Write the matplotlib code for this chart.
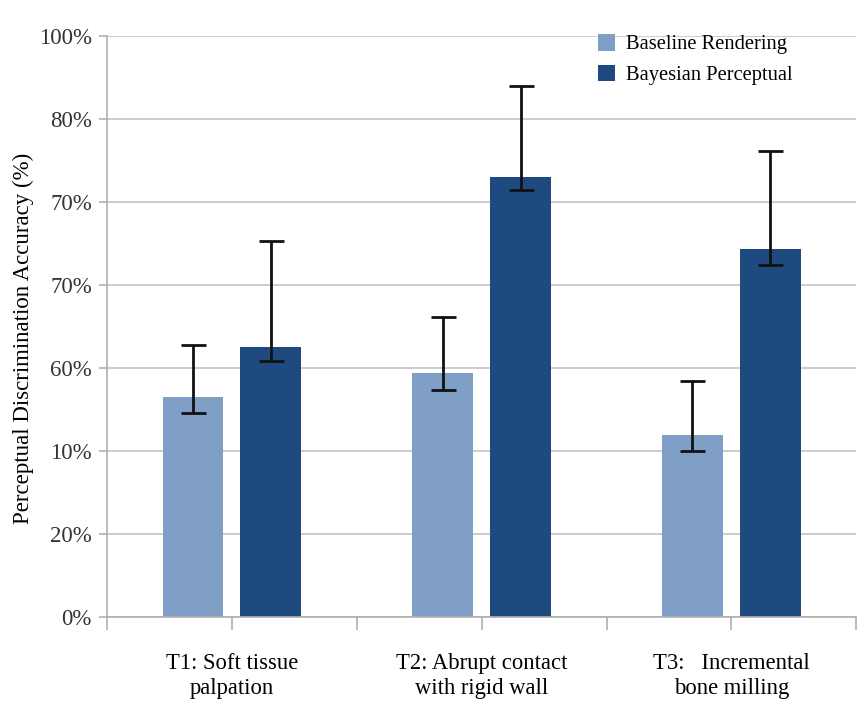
import matplotlib
matplotlib.use("Agg")
import matplotlib.pyplot as plt
import numpy as np

plt.rcParams['font.family'] = ['Liberation Serif', 'DejaVu Serif']

categories = ["T1: Soft tissue\npalpation", "T2: Abrupt contact\nwith rigid wall", "T3:   Incremental\nbone milling"]
series = ["Baseline Rendering", "Bayesian Perceptual"]

# values in gridline units (gridlines are labelled oddly in the source)
baseline = [2.65, 2.94, 2.19]
baseline_hi = [3.28, 3.62, 2.84]
baseline_lo = [2.46, 2.73, 2.00]
bayesian = [3.25, 5.30, 4.43]
bayesian_hi = [4.53, 6.40, 5.61]
bayesian_lo = [3.09, 5.14, 4.24]

tick_labels = ["0%", "20%", "10%", "60%", "70%", "70%", "80%", "100%"]

colors = ["#7f9fc6", "#1f4a80"]

fig = plt.figure(figsize=(8.64, 7.2), dpi=100)
ax = fig.add_axes([0.124, 0.143, 0.867, 0.807])

x = np.arange(len(categories))
w = 0.244
off = 0.156

for vals, hi, lo, sign, c, lab in [(baseline, baseline_hi, baseline_lo, -1, colors[0], series[0]),
                                   (bayesian, bayesian_hi, bayesian_lo, 1, colors[1], series[1])]:
    vals = np.array(vals)
    yerr = [vals - np.array(lo), np.array(hi) - vals]
    ax.bar(x + sign * off, vals, w, color=c, label=lab, zorder=2)
    ax.errorbar(x + sign * off, vals, yerr=yerr, fmt='none', ecolor='#111111',
                elinewidth=2, capsize=9, capthick=2, zorder=3)

ax.set_ylim(0, 7)
ax.set_xlim(-0.5, 2.5)
ax.set_yticks(range(8))
ax.set_yticklabels(tick_labels, fontsize=16.5, color='#333333')
ax.yaxis.grid(True, color='#c8c8c8', linewidth=1.3, zorder=0)
ax.set_axisbelow(True)

ax.set_xticks([-0.5, 0, 0.5, 1, 1.5, 2, 2.5])
ax.set_xticklabels([])
ax.tick_params(axis='x', length=9, color='#b0b0b0', width=1.2)
ax.tick_params(axis='y', length=6, color='#b0b0b0', width=1.2, pad=5)
for i, cat in enumerate(categories):
    ax.text(i, -0.43, cat, ha='center', va='top', fontsize=16.3, linespacing=1.25,
            transform=ax.transData)

ax.set_ylabel("Perceptual Discrimination Accuracy (%)", fontsize=16.5)
ax.yaxis.set_label_coords(-0.097, 0.48)

for s in ['top', 'right']:
    ax.spines[s].set_visible(False)
for s in ['left', 'bottom']:
    ax.spines[s].set_color('#b0b0b0')
    ax.spines[s].set_linewidth(1.2)

ax.legend(loc='upper left', bbox_to_anchor=(0.63, 1.035), frameon=False, fontsize=14.8,
          handlelength=0.85, handleheight=0.85, handletextpad=0.55, labelspacing=0.5)

fig.savefig("out.png", dpi=100)
